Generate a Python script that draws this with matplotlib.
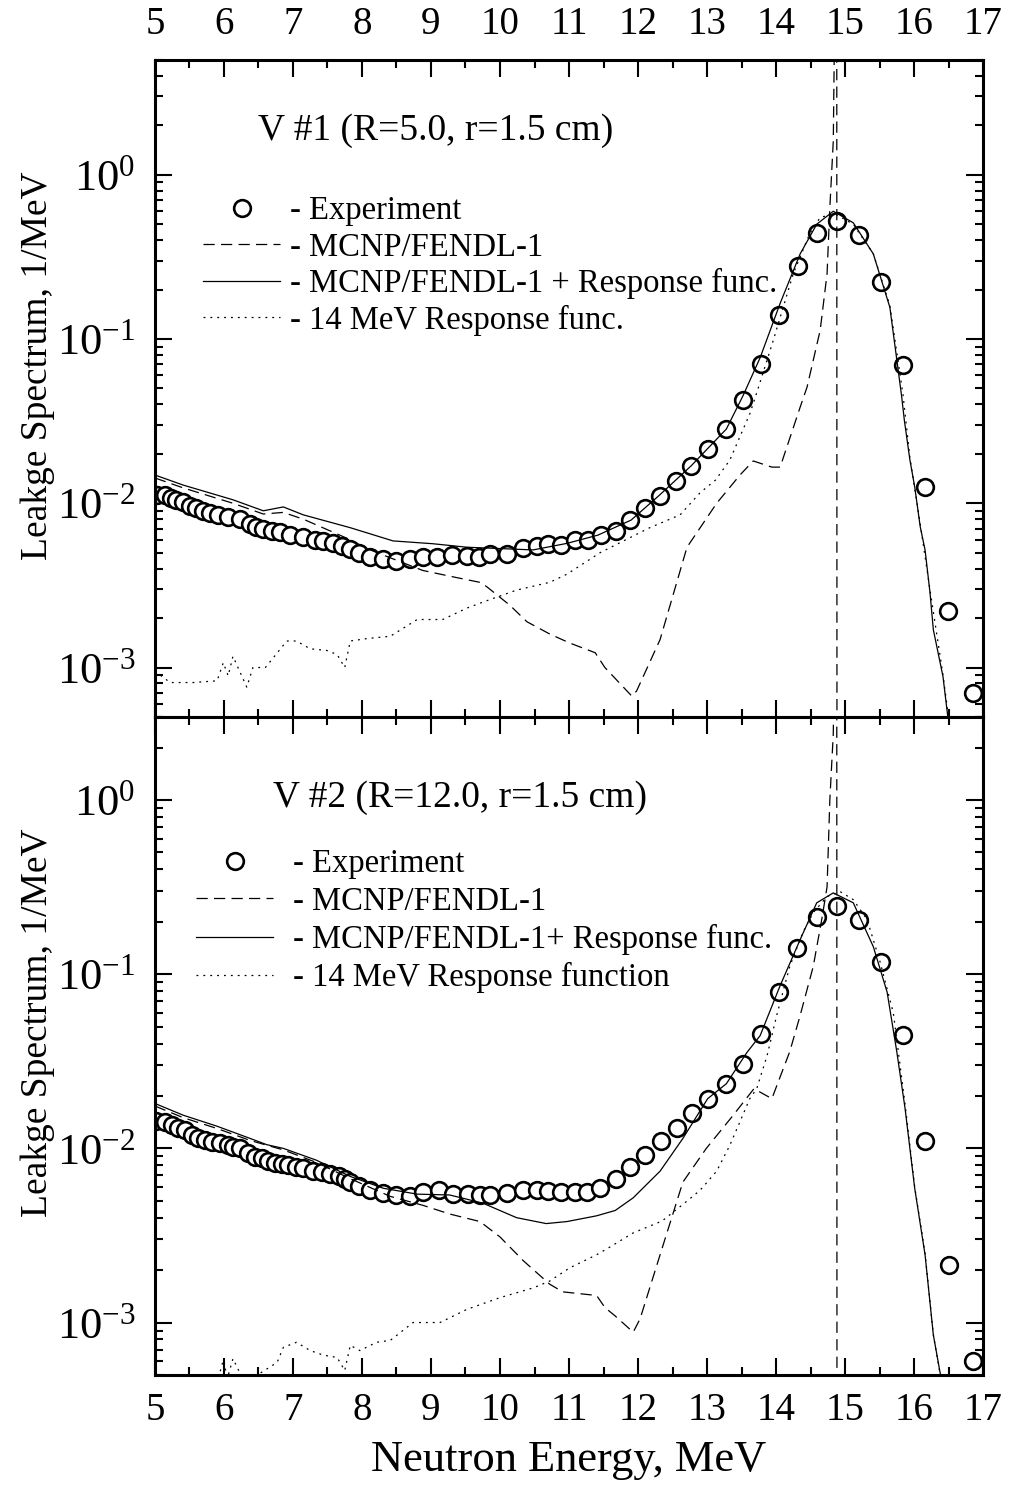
import matplotlib.pyplot as plt
from matplotlib.ticker import MultipleLocator, LogLocator, NullFormatter

plt.rcParams['font.family'] = ['Liberation Serif', 'DejaVu Serif']
plt.rcParams['mathtext.fontset'] = 'custom'
plt.rcParams['mathtext.rm'] = 'Liberation Serif'

# ---------------- V #1 (R=5.0, r=1.5 cm) ----------------
e1_exp = [5.03, 5.14, 5.23, 5.31, 5.41, 5.51, 5.60, 5.70, 5.80, 5.92,
          6.06, 6.23, 6.38, 6.47, 6.57, 6.69, 6.81, 6.96, 7.15, 7.32,
          7.44, 7.58, 7.71, 7.83, 7.95, 8.12, 8.31, 8.50, 8.70, 8.89,
          9.08, 9.30, 9.52, 9.69, 9.86, 10.10, 10.34, 10.53, 10.70, 10.89,
          11.09, 11.28, 11.46, 11.68, 11.88, 12.10, 12.32, 12.55, 12.77, 13.01,
          13.28, 13.52, 13.78, 14.04, 14.32, 14.59, 14.88, 15.20, 15.52, 15.84,
          16.16, 16.49, 16.86]
s1_exp = [0.01125, 0.0112, 0.01074, 0.0105, 0.0102, 0.00964, 0.00933, 0.00903, 0.00878, 0.00851,
          0.0083, 0.0080, 0.0075, 0.00722, 0.0070, 0.00674, 0.00667, 0.00643, 0.0062, 0.0060,
          0.00591, 0.00573, 0.00546, 0.00526, 0.00498, 0.00471, 0.00458, 0.00443, 0.00458, 0.00471,
          0.0047, 0.00481, 0.0048, 0.00471, 0.00491, 0.00491, 0.00534, 0.00546, 0.00564, 0.00555,
          0.0060, 0.0060, 0.0064, 0.0068, 0.0079, 0.0094, 0.0111, 0.0137, 0.0169, 0.0214,
          0.0283, 0.0425, 0.0701, 0.141, 0.280, 0.444, 0.526, 0.432, 0.221, 0.0692,
          0.0126, 0.00222, 0.000696]

e1_mcnp = [5.0, 5.41, 6.13, 6.57, 6.86, 7.15, 7.83, 8.07, 8.5, 8.88,
           9.27, 9.71, 9.81, 10.14, 10.39, 10.72, 11.01, 11.38, 11.52, 11.91,
           11.98, 12.32, 12.71, 13.14, 13.48, 13.67, 13.94, 14.06, 14.35, 14.45,
           14.64, 14.74, 14.78, 14.83, 14.87, 14.88, 14.885]
s1_mcnp = [0.01426, 0.0124, 0.0100, 0.0086, 0.0088, 0.0080, 0.0060, 0.0053, 0.0045, 0.0039,
           0.0036, 0.0033, 0.0031, 0.0024, 0.0019, 0.0016, 0.00141, 0.00123, 0.0010, 0.00067,
           0.00072, 0.00148, 0.0054, 0.010, 0.0149, 0.0181, 0.0166, 0.0166, 0.0385, 0.051,
           0.113, 0.25, 0.63, 1.6, 50, 50, 1e-6]

e1_resp = [5.0, 5.41, 6.13, 6.57, 6.86, 7.15, 7.83, 8.45, 9.03, 9.52,
           10.0, 10.48, 10.97, 11.42, 11.9, 12.3, 12.77, 13.28, 13.52, 13.77,
           14.06, 14.35, 14.59, 14.83, 15.12, 15.41, 15.65, 15.82, 15.86, 15.94,
           16.01, 16.09, 16.16, 16.23, 16.28, 16.42, 16.49, 16.55]
s1_resp = [0.01486, 0.0129, 0.0105, 0.0090, 0.0095, 0.0085, 0.0071, 0.0059, 0.00567, 0.0054,
           0.0053, 0.0052, 0.0057, 0.0064, 0.0079, 0.0111, 0.0169, 0.0283, 0.0450, 0.077,
           0.165, 0.33, 0.50, 0.60, 0.51, 0.33, 0.156, 0.045, 0.032, 0.0184,
           0.0126, 0.0072, 0.0052, 0.0029, 0.0017, 0.00088, 0.0005, 0.0003]

e1_rf = [5.0, 5.22, 5.55, 5.9, 5.99, 6.06, 6.13, 6.33, 6.42, 6.6,
         6.91, 7.05, 7.25, 7.49, 7.64, 7.75, 7.83, 8.07, 8.41, 8.8,
         9.17, 9.52, 9.75, 10.24, 10.72, 10.97, 11.45, 12.17, 12.61, 12.9,
         13.12, 13.33, 13.52, 13.62, 13.72, 13.96, 14.25, 14.49, 14.64, 14.85,
         15.12, 15.41, 15.65, 15.84, 15.94, 16.09, 16.23, 16.42, 16.5]
s1_rf = [9.5e-4, 8.1e-4, 8.1e-4, 8.3e-4, 1.07e-3, 8.9e-4, 1.17e-3, 7.6e-4, 1.0e-3, 1.0e-3,
         1.45e-3, 1.45e-3, 1.3e-3, 1.27e-3, 1.2e-3, 1.0e-3, 1.45e-3, 1.5e-3, 1.55e-3, 1.96e-3,
         1.96e-3, 2.3e-3, 2.5e-3, 2.96e-3, 3.3e-3, 3.7e-3, 5.0e-3, 7.1e-3, 8.5e-3, 0.0116,
         0.0138, 0.0183, 0.028, 0.035, 0.047, 0.098, 0.25, 0.44, 0.55, 0.58,
         0.50, 0.33, 0.16, 0.046, 0.019, 0.0075, 0.0030, 9e-4, 5e-4]

# ---------------- V #2 (R=12.0, r=1.5 cm) ----------------
e2_exp = [5.02, 5.14, 5.24, 5.34, 5.43, 5.53, 5.63, 5.72, 5.82, 5.94,
          6.06, 6.13, 6.23, 6.35, 6.45, 6.55, 6.64, 6.74, 6.84, 6.93,
          7.05, 7.15, 7.29, 7.42, 7.54, 7.66, 7.75, 7.83, 7.95, 8.12,
          8.31, 8.50, 8.70, 8.89, 9.11, 9.32, 9.54, 9.71, 9.86, 10.10,
          10.34, 10.53, 10.70, 10.89, 11.09, 11.26, 11.45, 11.68, 11.88, 12.10,
          12.33, 12.56, 12.78, 13.02, 13.28, 13.52, 13.78, 14.05, 14.31, 14.60,
          14.89, 15.20, 15.52, 15.84, 16.16, 16.50, 16.86]
s2_exp = [0.01432, 0.0141, 0.0136, 0.0131, 0.0127, 0.0119, 0.0115, 0.0112, 0.0109, 0.0107,
          0.01045, 0.0102, 0.0101, 0.00936, 0.00896, 0.00877, 0.00847, 0.00829, 0.0081, 0.0080,
          0.00779, 0.0077, 0.00743, 0.0073, 0.0071, 0.0069, 0.00665, 0.00637, 0.00612, 0.00578,
          0.00554, 0.00541, 0.00534, 0.00561, 0.00578, 0.00548, 0.00546, 0.00537, 0.0054, 0.00554,
          0.00578, 0.00578, 0.0057, 0.00565, 0.0056, 0.00565, 0.0059, 0.00665, 0.00786, 0.00916,
          0.0110, 0.0131, 0.0159, 0.0191, 0.0235, 0.0306, 0.0454, 0.079, 0.142, 0.213,
          0.246, 0.206, 0.118, 0.0448, 0.011, 0.00215, 0.000598]

e2_mcnp = [5.0, 5.41, 5.9, 6.38, 6.86, 7.34, 7.83, 8.41, 8.89, 9.27,
           9.71, 10.0, 10.34, 10.72, 10.91, 11.40, 11.52, 11.67, 11.93, 12.03,
           12.32, 12.65, 12.99, 13.38, 13.68, 13.94, 14.2, 14.35, 14.54, 14.67,
           14.74, 14.78, 14.83, 14.87, 14.88, 14.885]
s2_mcnp = [0.0175, 0.0150, 0.0130, 0.0111, 0.0098, 0.0083, 0.0067, 0.0053, 0.0047, 0.0042,
           0.0038, 0.0031, 0.00226, 0.00166, 0.0015, 0.00143, 0.00122, 0.00109, 0.00088, 0.00105,
           0.00245, 0.0064, 0.010, 0.0155, 0.022, 0.0193, 0.036, 0.058, 0.111, 0.214,
           0.318, 1.0, 2.4, 50, 50, 1e-6]

e2_resp = [5.0, 5.41, 5.9, 6.38, 6.62, 6.86, 7.34, 7.83, 8.31, 8.80,
           9.27, 9.75, 10.24, 10.67, 10.97, 11.40, 11.67, 11.93, 12.32, 12.65,
           13.01, 13.28, 13.58, 13.77, 14.06, 14.35, 14.59, 14.83, 15.12, 15.41,
           15.61, 15.75, 15.87, 16.01, 16.16, 16.28, 16.38, 16.45]
s2_resp = [0.0181, 0.0155, 0.0134, 0.0114, 0.0105, 0.0100, 0.00855, 0.0069, 0.0059, 0.00546,
           0.0054, 0.00485, 0.0040, 0.0037, 0.0038, 0.0041, 0.0044, 0.0052, 0.0074, 0.0114,
           0.0193, 0.0235, 0.0356, 0.0444, 0.086, 0.158, 0.257, 0.293, 0.257, 0.144,
           0.079, 0.036, 0.017, 0.0059, 0.00245, 0.00085, 0.00051, 0.0003]

e2_rf = [5.0, 5.5, 5.9, 5.99, 6.05, 6.13, 6.3, 6.77, 6.86, 7.05,
         7.25, 7.44, 7.64, 7.75, 7.83, 7.97, 8.21, 8.41, 8.74, 9.13,
         9.52, 10.0, 10.48, 10.72, 11.01, 11.40, 11.57, 11.93, 12.35, 12.71,
         12.9, 13.14, 13.33, 13.48, 13.62, 13.72, 13.87, 14.01, 14.2, 14.39,
         14.54, 14.74, 14.93, 15.12, 15.32, 15.51, 15.70, 15.87, 16.01, 16.16,
         16.28, 16.38, 16.45]
s2_rf = [4e-4, 4e-4, 4.5e-4, 6.1e-4, 4.8e-4, 6.2e-4, 4.5e-4, 5.9e-4, 7.2e-4, 7.7e-4,
         6.9e-4, 6.5e-4, 6.3e-4, 5.3e-4, 7.4e-4, 6.9e-4, 7.7e-4, 7.9e-4, 1.0e-3, 1.0e-3,
         1.19e-3, 1.39e-3, 1.58e-3, 1.73e-3, 2.06e-3, 2.45e-3, 2.68e-3, 3.27e-3, 3.83e-3, 4.98e-3,
         5.75e-3, 7.4e-3, 0.0104, 0.0143, 0.0193, 0.022, 0.034, 0.058, 0.111, 0.174,
         0.226, 0.279, 0.298, 0.268, 0.206, 0.117, 0.06, 0.018, 0.006, 0.0025,
         8.5e-4, 5e-4, 3e-4]

panels = [
    dict(title='V #1 (R=5.0, r=1.5 cm)', ylim=(5e-4, 5),
         exp=(e1_exp, s1_exp), mcnp=(e1_mcnp, s1_mcnp),
         resp=(e1_resp, s1_resp), rf=(e1_rf, s1_rf),
         labels=['- Experiment', '- MCNP/FENDL-1',
                 '- MCNP/FENDL-1 + Response func.', '- 14 MeV Response func.'],
         title_xy=(0.125, 0.893), leg_xy=(0.058, 0.793),
         textpad=0.3, spacing=0.17),
    dict(title='V #2 (R=12.0, r=1.5 cm)', ylim=(5e-4, 3),
         exp=(e2_exp, s2_exp), mcnp=(e2_mcnp, s2_mcnp),
         resp=(e2_resp, s2_resp), rf=(e2_rf, s2_rf),
         labels=['- Experiment', '- MCNP/FENDL-1',
                 '- MCNP/FENDL-1+ Response func.', '- 14 MeV Response function'],
         title_xy=(0.143, 0.877), leg_xy=(0.050, 0.800),
         textpad=0.6, spacing=0.22),
]

fig = plt.figure(figsize=(10.13, 14.85), dpi=100)
ax1 = fig.add_axes([0.153, 0.5172, 0.8174, 0.4424])
ax2 = fig.add_axes([0.153, 0.0741, 0.8174, 0.4431])

for ax, p in zip([ax1, ax2], panels):
    ax.set_yscale('log')
    h_exp, = ax.plot(*p['exp'], 'o', ms=12, mfc='white', mec='black', mew=1.9,
                     ls='none', zorder=2)
    h_mc, = ax.plot(*p['mcnp'], color='black', lw=0.9, ls=(0, (9, 5)), zorder=3)
    h_rs, = ax.plot(*p['resp'], color='black', lw=0.9, ls='-', zorder=3)
    h_rf, = ax.plot(*p['rf'], color='black', lw=0.9, ls=(0, (1.5, 4)), zorder=3)

    ax.set_xlim(5, 17)
    ax.set_ylim(*p['ylim'])
    ax.xaxis.set_major_locator(MultipleLocator(1))
    ax.xaxis.set_minor_locator(MultipleLocator(0.5))
    ax.yaxis.set_major_locator(LogLocator(base=10, numticks=20))
    ax.yaxis.set_minor_locator(LogLocator(base=10, subs=range(2, 10), numticks=50))
    ax.yaxis.set_minor_formatter(NullFormatter())
    ax.tick_params(which='both', direction='in', top=True, right=True, width=1.5)
    ax.tick_params(which='major', length=12)
    ax.tick_params(which='minor', length=6)
    ax.tick_params(axis='y', labelsize=32, pad=14)
    ax.tick_params(axis='x', labelsize=28, pad=12)
    for s in ax.spines.values():
        s.set_linewidth(2.2)

    ax.set_ylabel('Leakge Spectrum, 1/MeV', fontsize=27)
    ax.yaxis.set_label_coords(-0.121, 0.535)
    ax.text(p['title_xy'][0], p['title_xy'][1], p['title'], transform=ax.transAxes,
            fontsize=27, va='center', ha='left')
    ax.legend([h_exp, h_mc, h_rs, h_rf], p['labels'], loc='upper left',
              bbox_to_anchor=p['leg_xy'], frameon=False, fontsize=23.5,
              handlelength=2.36, handletextpad=p['textpad'], labelspacing=p['spacing'],
              borderpad=0, borderaxespad=0, numpoints=1)

ax1.tick_params(axis='x', labeltop=True, labelbottom=False)
ax2.set_xlabel('Neutron Energy, MeV', fontsize=32, labelpad=8)

fig.savefig('out.png', dpi=100)
